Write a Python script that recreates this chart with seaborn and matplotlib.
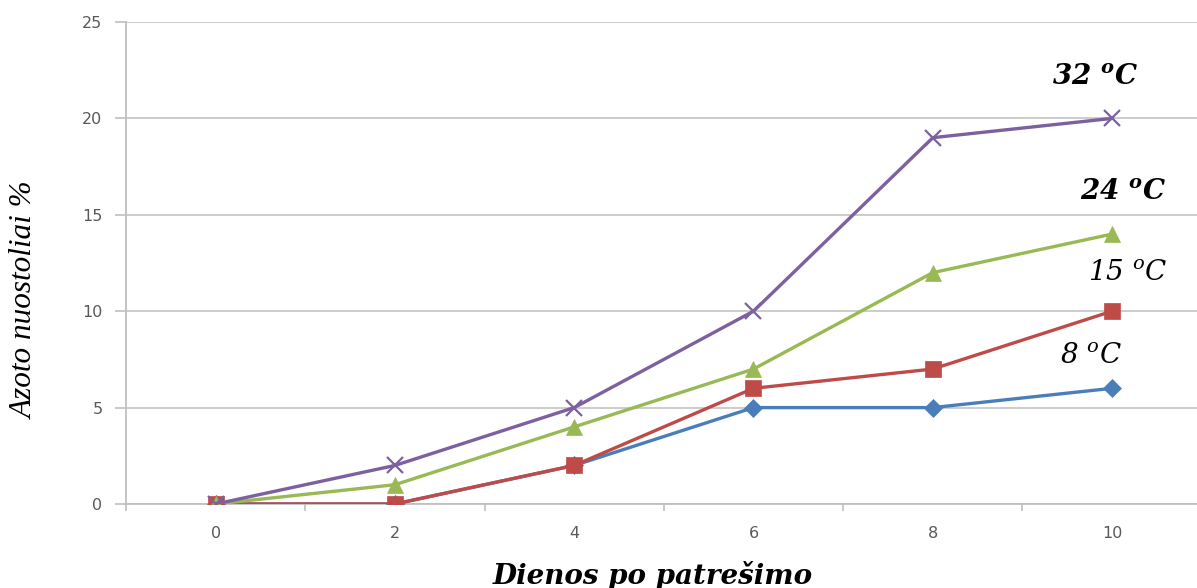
import matplotlib
matplotlib.use("Agg")
import matplotlib.pyplot as plt
import seaborn as sns
import pandas as pd
from matplotlib.ticker import FixedLocator, NullFormatter

days = ["0", "2", "4", "6", "8", "10"]
loss_8 = [0, 0, 2, 5, 5, 6]
loss_15 = [0, 0, 2, 6, 7, 10]
loss_24 = [0, 1, 4, 7, 12, 14]
loss_32 = [0, 2, 5, 10, 19, 20]
temp_labels = ["8", "15", "24", "32"]
y_ticks = [0, 5, 10, 15, 20, 25]

sns.set_theme(style="white")
plt.rcParams["mathtext.fontset"] = "custom"
plt.rcParams["mathtext.it"] = "DejaVu Serif:italic"
plt.rcParams["mathtext.rm"] = "DejaVu Serif:italic"
plt.rcParams["mathtext.bf"] = "DejaVu Serif:italic:bold"

series = [
    (loss_8, "#4A7EBB", "D", 9),
    (loss_15, "#BE4B48", "s", 11),
    (loss_24, "#98B954", "^", 11),
    (loss_32, "#7D60A0", "x", 12),
]

fig = plt.figure(figsize=(11.97, 5.88), dpi=100)
ax = fig.add_axes([126 / 1197, 1 - 504 / 588, 1 - 126 / 1197, (504 - 22) / 588])

idx = list(range(len(days)))
for vals, color, marker, ms in series:
    df = pd.DataFrame({"x": idx, "y": vals})
    sns.lineplot(data=df, x="x", y="y", ax=ax, color=color, linewidth=2.4,
                 marker=marker, markersize=ms, markeredgecolor=color,
                 markeredgewidth=1.6 if marker == "x" else 0.5, zorder=3)

step = 179.4
ax.set_xlim(-0.5, (1197 - 215) / step)
ax.set_ylim(0, 25)

ax.set_xticks(idx)
ax.set_xticklabels(days)
ax.xaxis.set_minor_locator(FixedLocator([i - 0.5 for i in range(len(days) + 1)]))
ax.xaxis.set_minor_formatter(NullFormatter())
ax.set_yticks(y_ticks)
ax.set_yticklabels([str(v) for v in y_ticks])

tick_color = "#595959"
ax.tick_params(axis="x", which="major", length=0, pad=16, labelsize=11.5,
               labelcolor=tick_color)
ax.tick_params(axis="x", which="minor", bottom=True, length=5, width=1.2,
               color="#BFBFBF", direction="out")
ax.tick_params(axis="y", which="major", left=True, length=8, width=1.2,
               color="#BFBFBF", direction="out", pad=9, labelsize=11.5,
               labelcolor=tick_color)
for lab in ax.get_xticklabels() + ax.get_yticklabels():
    lab.set_fontfamily("DejaVu Sans")

ax.yaxis.grid(True, color="#C8C8C8", linewidth=1.3)
ax.xaxis.grid(False)
for side in ["top", "right"]:
    ax.spines[side].set_visible(False)
for side in ["left", "bottom"]:
    ax.spines[side].set_color("#BFBFBF")
    ax.spines[side].set_linewidth(1.3)

ax.set_xlabel("")
ax.set_ylabel("")
fig.text(653 / 1197, 1 - 575 / 588, "Dienos po patrešimo", ha="center", va="center",
         fontfamily="DejaVu Serif", fontstyle="italic", fontweight="bold",
         fontsize=20, color="black")
fig.text(25 / 1197, 1 - 300 / 588, "Azoto nuostoliai %", ha="center", va="center",
         rotation=90, fontfamily="Liberation Serif", fontstyle="italic",
         fontsize=22.5, color="black")

label_pos = [(4.88, 7.7, False), (5.09, 12.0, False), (5.06, 16.2, True), (4.905, 22.15, True)]
for t, (x, y, bold) in zip(temp_labels, label_pos):
    sup = r"$^{\mathbf{o}}$" if bold else r"$^{o}$"
    ax.text(x, y, f"{t} {sup}C", ha="center", va="center",
            fontfamily="DejaVu Serif", fontstyle="italic",
            fontweight="bold" if bold else "normal", fontsize=20, color="black")

fig.savefig("out.png", dpi=100)
